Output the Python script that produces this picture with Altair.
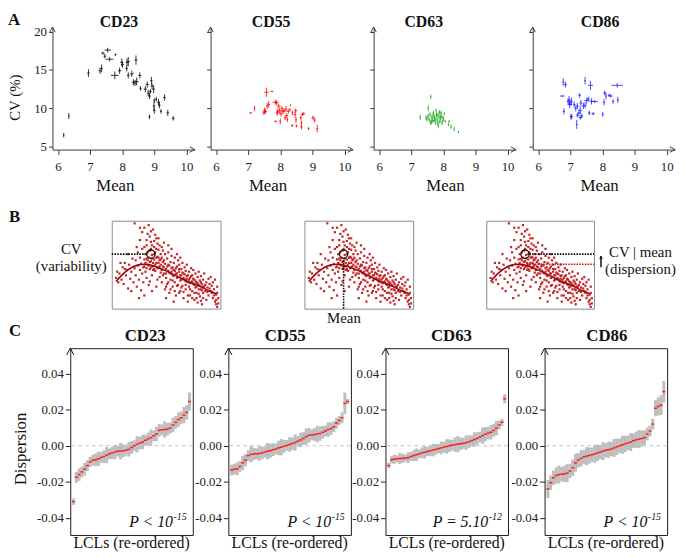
import altair as alt
import pandas as pd

# ======================= DATA =======================
# ---- Panel A: per-LCL (mean, CV %, mean error, CV error) ----
A_NAMES = ["CD23", "CD55", "CD63", "CD86"]
A_XTICKS = [6, 7, 8, 9, 10]
A_YTICKS = [5, 10, 15, 20]

CD23_A = [
    (6.18, 6.5, 0.02, 0.3), (6.34, 9.0, 0.02, 0.4), (6.95, 14.6, 0.04, 0.5),
    (7.31, 14.9, 0.04, 0.4), (7.36, 15.2, 0.04, 0.5), (7.40, 17.2, 0.05, 0.2),
    (7.46, 16.8, 0.04, 0.3), (7.55, 17.6, 0.10, 0.3), (7.61, 16.4, 0.12, 0.3),
    (7.79, 17.0, 0.03, 0.15), (7.77, 14.3, 0.12, 0.5), (7.92, 14.9, 0.05, 0.4),
    (7.99, 16.0, 0.05, 0.5), (8.01, 15.7, 0.05, 0.4), (8.15, 16.0, 0.04, 0.5),
    (8.19, 16.1, 0.05, 0.6), (8.19, 14.3, 0.04, 0.4), (8.14, 15.2, 0.04, 0.4),
    (8.30, 14.5, 0.06, 0.4), (8.35, 13.4, 0.05, 0.4), (8.40, 13.3, 0.05, 0.4),
    (8.43, 16.3, 0.05, 0.6), (8.45, 13.5, 0.06, 0.5), (8.55, 14.3, 0.05, 0.4),
    (8.57, 12.6, 0.03, 0.3), (8.72, 12.5, 0.05, 0.4), (8.78, 13.1, 0.05, 0.4),
    (8.81, 12.0, 0.04, 0.4), (8.85, 11.6, 0.05, 0.4), (8.85, 8.9, 0.03, 0.3),
    (8.91, 13.6, 0.04, 0.5), (8.93, 12.9, 0.05, 0.4), (8.98, 12.5, 0.04, 0.5),
    (9.00, 11.0, 0.03, 0.3), (8.99, 10.3, 0.04, 0.5), (9.00, 9.7, 0.04, 0.4),
    (9.13, 10.8, 0.05, 0.4), (9.16, 10.4, 0.04, 0.4), (9.21, 9.6, 0.03, 0.3),
    (9.32, 11.4, 0.04, 0.4), (9.42, 9.4, 0.04, 0.4), (9.59, 8.7, 0.04, 0.3),
    (9.06, 11.2, 0.03, 0.3), (8.88, 12.2, 0.04, 0.3),
]
CD55_A = [
    (7.08, 9.4, 0.04, 0.1), (7.20, 9.96, 0.02, 0.35), (7.49, 9.4, 0.05, 0.3),
    (7.51, 9.7, 0.04, 0.4), (7.54, 9.6, 0.05, 0.3), (7.57, 12.1, 0.07, 0.6),
    (7.59, 10.3, 0.04, 0.4), (7.64, 10.5, 0.04, 0.4), (7.74, 12.2, 0.04, 0.1),
    (7.85, 10.8, 0.09, 0.3), (7.88, 10.7, 0.05, 0.3), (7.90, 9.4, 0.05, 0.4),
    (7.92, 9.6, 0.04, 0.4), (7.95, 10.3, 0.06, 0.3), (7.98, 9.7, 0.04, 0.4),
    (8.00, 8.3, 0.03, 0.4), (8.02, 9.3, 0.05, 0.4), (8.05, 10.0, 0.04, 0.3),
    (8.08, 9.6, 0.04, 0.4), (8.12, 9.7, 0.05, 0.3), (8.15, 8.75, 0.04, 0.3),
    (8.18, 9.9, 0.04, 0.4), (8.20, 9.05, 0.05, 0.3), (8.22, 8.5, 0.03, 0.3),
    (8.25, 9.6, 0.04, 0.3), (8.30, 9.8, 0.03, 0.2), (8.32, 10.4, 0.02, 0.1),
    (8.37, 7.75, 0.03, 0.2), (8.46, 9.2, 0.04, 0.4), (8.48, 9.7, 0.04, 0.3),
    (8.49, 8.5, 0.03, 0.4), (8.51, 7.7, 0.03, 0.2), (8.64, 8.75, 0.04, 0.3),
    (8.66, 8.1, 0.03, 0.3), (8.69, 9.2, 0.04, 0.2), (8.73, 9.3, 0.04, 0.2),
    (8.66, 7.55, 0.04, 0.3), (8.88, 7.35, 0.03, 0.2), (9.02, 8.75, 0.05, 0.3),
    (9.07, 8.45, 0.03, 0.3), (9.15, 7.35, 0.03, 0.5), (7.85, 8.3, 0.04, 0.1),
    (8.38, 9.4, 0.03, 0.3),
]
CD63_A = [
    (7.61, 11.5, 0.02, 0.3), (7.28, 8.8, 0.02, 0.35), (7.53, 10.0, 0.02, 0.4),
    (7.49, 8.6, 0.03, 0.3), (7.56, 8.5, 0.03, 0.3), (7.61, 8.1, 0.03, 0.3),
    (7.66, 8.4, 0.03, 0.3), (7.69, 9.4, 0.03, 0.3), (7.73, 8.8, 0.03, 0.4),
    (7.76, 8.1, 0.02, 0.3), (7.79, 9.2, 0.03, 0.4), (7.81, 8.5, 0.03, 0.3),
    (7.84, 7.7, 0.02, 0.3), (7.86, 9.0, 0.03, 0.4), (7.89, 8.3, 0.03, 0.3),
    (7.91, 8.8, 0.04, 0.4), (7.93, 9.4, 0.03, 0.3), (7.96, 8.1, 0.02, 0.3),
    (7.99, 8.4, 0.02, 0.2), (8.03, 9.3, 0.02, 0.2), (8.06, 8.3, 0.02, 0.2),
    (8.16, 7.9, 0.02, 0.2), (8.24, 7.6, 0.02, 0.3), (8.34, 7.3, 0.02, 0.3),
    (8.47, 6.9, 0.02, 0.15), (7.59, 9.2, 0.03, 0.3), (7.64, 8.8, 0.03, 0.3),
    (7.71, 8.4, 0.03, 0.3), (7.83, 8.1, 0.03, 0.3), (7.53, 9.0, 0.03, 0.3),
    (7.46, 8.8, 0.02, 0.3), (8.18, 8.3, 0.02, 0.2), (7.77, 9.75, 0.02, 0.2),
    (7.88, 9.5, 0.03, 0.3), (7.68, 9.0, 0.03, 0.3), (7.74, 8.6, 0.03, 0.3),
    (7.95, 8.9, 0.03, 0.3), (7.62, 8.2, 0.03, 0.3), (7.80, 9.1, 0.03, 0.3),
    (8.00, 8.7, 0.03, 0.3),
]
CD86_A = [
    (6.78, 13.4, 0.03, 0.5), (6.85, 13.1, 0.04, 0.4), (6.75, 11.6, 0.07, 0.1),
    (6.80, 9.6, 0.03, 0.4), (6.93, 10.9, 0.04, 0.4), (6.96, 11.1, 0.05, 0.5),
    (6.98, 10.5, 0.06, 0.5), (6.99, 10.7, 0.04, 0.4), (7.02, 8.9, 0.04, 0.4),
    (7.04, 10.9, 0.03, 0.5), (7.12, 10.5, 0.04, 0.4), (7.17, 10.0, 0.04, 0.4),
    (7.20, 7.9, 0.03, 0.6), (7.22, 9.1, 0.04, 0.3), (7.27, 9.4, 0.05, 0.4),
    (7.29, 11.7, 0.04, 0.3), (7.31, 9.75, 0.06, 0.5), (7.33, 10.7, 0.05, 0.4),
    (7.36, 9.0, 0.04, 0.3), (7.41, 10.3, 0.05, 0.4), (7.46, 13.6, 0.03, 0.5),
    (7.51, 11.0, 0.08, 0.4), (7.56, 11.2, 0.05, 0.3), (7.59, 9.4, 0.04, 0.3),
    (7.63, 13.0, 0.08, 0.6), (7.66, 10.9, 0.06, 0.4), (7.71, 9.3, 0.05, 0.2),
    (7.76, 10.9, 0.10, 0.2), (7.46, 10.4, 0.05, 0.4), (7.22, 10.3, 0.04, 0.4),
    (8.01, 9.2, 0.03, 0.3), (8.05, 10.8, 0.04, 0.4), (8.07, 12.0, 0.05, 0.3),
    (8.11, 11.6, 0.03, 0.4), (8.21, 11.7, 0.04, 0.2), (8.26, 11.6, 0.06, 0.2),
    (8.33, 10.9, 0.03, 0.3), (8.46, 13.0, 0.18, 0.3), (8.48, 11.1, 0.03, 0.4),
    (7.04, 8.9, 0.04, 0.3), (7.31, 8.8, 0.05, 0.3),
]
A_DATA = [CD23_A, CD55_A, CD63_A, CD86_A]

# ---- Panel B: schematic cloud (normalised mean, normalised CV) ----
B_CLOUD = [
    (0.04, 0.35), (0.06, 0.30), (0.07, 0.40), (0.09, 0.33), (0.10, 0.47), (0.11, 0.28),
    (0.12, 0.52), (0.13, 0.38), (0.14, 0.44), (0.15, 0.23), (0.16, 0.50), (0.17, 0.34),
    (0.18, 0.42), (0.19, 0.57), (0.20, 0.30), (0.08, 0.52), (0.05, 0.42), (0.15, 0.62),
    (0.18, 0.20), (0.12, 0.45),
    (0.21, 0.46), (0.22, 0.38), (0.22, 0.55), (0.23, 0.25), (0.24, 0.49), (0.24, 0.64),
    (0.25, 0.33), (0.25, 0.12), (0.26, 0.44), (0.26, 0.58), (0.27, 0.21), (0.27, 0.51),
    (0.28, 0.40), (0.28, 0.68), (0.29, 0.30), (0.29, 0.47), (0.30, 0.56), (0.30, 0.15),
    (0.21, 0.97), (0.28, 0.87), (0.23, 0.70), (0.26, 0.78),
    (0.31, 0.62), (0.31, 0.42), (0.32, 0.72), (0.32, 0.35), (0.33, 0.50), (0.33, 0.85),
    (0.34, 0.58), (0.34, 0.27), (0.35, 0.66), (0.35, 0.45), (0.36, 0.76), (0.36, 0.54),
    (0.37, 0.61), (0.37, 0.38), (0.38, 0.90), (0.38, 0.48), (0.39, 0.70), (0.39, 0.56),
    (0.40, 0.64), (0.40, 0.43), (0.41, 0.52), (0.41, 0.80), (0.42, 0.59), (0.42, 0.33),
    (0.43, 0.67), (0.43, 0.47), (0.44, 0.55), (0.44, 0.72), (0.45, 0.41), (0.45, 0.62),
    (0.34, 0.95), (0.36, 0.88), (0.40, 0.84), (0.33, 0.64), (0.38, 0.52), (0.42, 0.74),
    (0.37, 0.20), (0.41, 0.25), (0.35, 0.31), (0.44, 0.36), (0.32, 0.57), (0.39, 0.45),
    (0.43, 0.58), (0.36, 0.68), (0.45, 0.50),
    (0.46, 0.58), (0.46, 0.30), (0.47, 0.48), (0.47, 0.66), (0.48, 0.40), (0.48, 0.55),
    (0.49, 0.22), (0.49, 0.62), (0.50, 0.45), (0.50, 0.35), (0.51, 0.57), (0.51, 0.28),
    (0.52, 0.50), (0.52, 0.64), (0.53, 0.41), (0.53, 0.18), (0.54, 0.53), (0.54, 0.33),
    (0.55, 0.46), (0.55, 0.60), (0.56, 0.38), (0.56, 0.25), (0.57, 0.52), (0.57, 0.44),
    (0.58, 0.30), (0.58, 0.58), (0.59, 0.40), (0.59, 0.15), (0.60, 0.48), (0.60, 0.35),
    (0.61, 0.55), (0.61, 0.27), (0.62, 0.42), (0.62, 0.50), (0.63, 0.32), (0.63, 0.20),
    (0.64, 0.45), (0.64, 0.38), (0.65, 0.52), (0.65, 0.26), (0.66, 0.40), (0.66, 0.12),
    (0.67, 0.47), (0.67, 0.33), (0.68, 0.43), (0.68, 0.22), (0.69, 0.37), (0.69, 0.50),
    (0.70, 0.30), (0.70, 0.08), (0.52, 0.72), (0.48, 0.75), (0.55, 0.68), (0.60, 0.62),
    (0.50, 0.12), (0.57, 0.08), (0.63, 0.58), (0.47, 0.38),
    (0.71, 0.42), (0.71, 0.25), (0.72, 0.35), (0.72, 0.15), (0.73, 0.46), (0.73, 0.30),
    (0.74, 0.20), (0.74, 0.38), (0.75, 0.28), (0.75, 0.44), (0.76, 0.33), (0.76, 0.10),
    (0.77, 0.24), (0.77, 0.40), (0.78, 0.30), (0.78, 0.18), (0.79, 0.36), (0.79, 0.07),
    (0.80, 0.27), (0.80, 0.42), (0.81, 0.32), (0.81, 0.14), (0.82, 0.22), (0.82, 0.37),
    (0.83, 0.28), (0.83, 0.05), (0.84, 0.33), (0.84, 0.18), (0.85, 0.25), (0.85, 0.40),
    (0.86, 0.20), (0.87, 0.30), (0.87, 0.10), (0.88, 0.24), (0.89, 0.34), (0.89, 0.15),
    (0.90, 0.28), (0.91, 0.20), (0.91, 0.36), (0.92, 0.26), (0.93, 0.12), (0.93, 0.30),
    (0.94, 0.22), (0.95, 0.33), (0.95, 0.08), (0.96, 0.16), (0.96, 0.05), (0.97, 0.25),
    (0.97, 0.02), (0.98, 0.12),
    # dense band just above / around the fitted curve
    (0.30, 0.48), (0.31, 0.52), (0.32, 0.46), (0.33, 0.55), (0.34, 0.49), (0.35, 0.53),
    (0.36, 0.47), (0.37, 0.57), (0.38, 0.44), (0.39, 0.62), (0.40, 0.50), (0.41, 0.58),
    (0.42, 0.46), (0.43, 0.52), (0.44, 0.48), (0.45, 0.56), (0.46, 0.44), (0.47, 0.53),
    (0.48, 0.47), (0.49, 0.51), (0.50, 0.40), (0.51, 0.48), (0.52, 0.43), (0.53, 0.49),
    (0.54, 0.40), (0.55, 0.42), (0.56, 0.47), (0.57, 0.37), (0.58, 0.43), (0.59, 0.46),
    (0.60, 0.40), (0.61, 0.36), (0.62, 0.45), (0.63, 0.38), (0.64, 0.33), (0.65, 0.41),
    (0.66, 0.35), (0.67, 0.39), (0.68, 0.31), (0.69, 0.34), (0.70, 0.38), (0.71, 0.33),
    (0.72, 0.29), (0.73, 0.37), (0.74, 0.31), (0.75, 0.34), (0.76, 0.27), (0.77, 0.31),
    (0.78, 0.25), (0.79, 0.29), (0.80, 0.22), (0.81, 0.26), (0.82, 0.30), (0.83, 0.21),
    (0.84, 0.25), (0.86, 0.27), (0.88, 0.19), (0.90, 0.23), (0.92, 0.18), (0.94, 0.15),
    (0.96, 0.10), (0.97, 0.18), (0.98, 0.06),
    (0.50, 0.25), (0.52, 0.30), (0.54, 0.22), (0.56, 0.32), (0.58, 0.20), (0.60, 0.26),
    (0.62, 0.18), (0.64, 0.24), (0.66, 0.19), (0.68, 0.27), (0.70, 0.15), (0.72, 0.22),
    (0.74, 0.12), (0.76, 0.18), (0.78, 0.12), (0.80, 0.17), (0.82, 0.09), (0.84, 0.12),
    (0.30, 0.70), (0.32, 0.78), (0.35, 0.82), (0.37, 0.72), (0.39, 0.77), (0.41, 0.68),
    (0.43, 0.80), (0.46, 0.70), (0.30, 0.92), (0.26, 0.92),
]
B_FIT_X = [0.04, 0.10, 0.15, 0.20, 0.25, 0.30, 0.35, 0.40, 0.50, 0.60, 0.70, 0.80, 0.90, 0.96]
B_FIT_Y = [0.31, 0.39, 0.44, 0.48, 0.50, 0.505, 0.50, 0.48, 0.43, 0.37, 0.31, 0.26, 0.20, 0.17]
B_POINT = (0.36, 0.62)          # highlighted LCL (mean, CV)
B_FIT_AT_POINT = 0.505          # fitted CV at that mean

# ---- Panel C: sorted dispersion per LCL with error half-widths ----
C_NAMES = ["CD23", "CD55", "CD63", "CD86"]
C_YTICKS = [-0.04, -0.02, 0.0, 0.02, 0.04]
C_PVALUES = [("P < 10", "-15"), ("P < 10", "-15"), ("P = 5.10", "-12"), ("P < 10", "-15")]

D23 = [-0.031, -0.0175, -0.016, -0.0145, -0.013, -0.011, -0.009, -0.008, -0.0078, -0.0072,
       -0.0065, -0.006, -0.0052, -0.0045, -0.004, -0.0035, -0.003, -0.003, -0.0028, -0.0025,
       -0.002, -0.001, 0.000, 0.0008, 0.0015, 0.002, 0.003, 0.0038, 0.0045, 0.0055,
       0.0065, 0.0085, 0.0088, 0.009, 0.0092, 0.0098, 0.0115, 0.013, 0.0145, 0.0155,
       0.017, 0.0185, 0.0245]
E23 = [0.0018, 0.003, 0.0035, 0.003, 0.0035, 0.003, 0.0028, 0.003, 0.0035, 0.004,
       0.003, 0.0035, 0.0045, 0.003, 0.0035, 0.004, 0.003, 0.0045, 0.0035, 0.003,
       0.004, 0.0035, 0.003, 0.0045, 0.0035, 0.004, 0.003, 0.0035, 0.0045, 0.003,
       0.004, 0.0035, 0.003, 0.0045, 0.0035, 0.003, 0.004, 0.0035, 0.004, 0.0035,
       0.0045, 0.004, 0.005]
D55 = [-0.0135, -0.013, -0.0128, -0.0115, -0.0095, -0.008, -0.0055, -0.0048, -0.0046, -0.0045,
       -0.0043, -0.004, -0.0035, -0.003, -0.0028, -0.0022, -0.0018, -0.0012, -0.0008, -0.0003,
       0.0002, 0.0007, 0.0012, 0.0018, 0.0025, 0.0032, 0.004, 0.005, 0.0058, 0.006,
       0.0062, 0.0065, 0.0068, 0.0075, 0.0082, 0.009, 0.0095, 0.0105, 0.0125, 0.014,
       0.0155, 0.0235, 0.0245]
E55 = [0.003, 0.003, 0.0035, 0.003, 0.004, 0.0035, 0.003, 0.0045, 0.0035, 0.003,
       0.004, 0.0035, 0.003, 0.0045, 0.004, 0.0035, 0.003, 0.004, 0.0045, 0.0035,
       0.003, 0.004, 0.0035, 0.0045, 0.003, 0.004, 0.0035, 0.0045, 0.004, 0.003,
       0.0035, 0.0045, 0.004, 0.0035, 0.003, 0.004, 0.0035, 0.003, 0.003, 0.0025,
       0.003, 0.006, 0.0015]
D63 = [-0.011, -0.0078, -0.0075, -0.0073, -0.0071, -0.007, -0.0068, -0.0066, -0.006, -0.0055,
       -0.005, -0.0045, -0.004, -0.0036, -0.0032, -0.0028, -0.0024, -0.002, -0.0016, -0.0012,
       -0.0008, -0.0004, 0.0000, 0.0003, 0.0006, 0.0009, 0.0011, 0.0013, 0.0017, 0.0022,
       0.0028, 0.0034, 0.004, 0.0048, 0.0056, 0.0064, 0.007, 0.0075, 0.0085, 0.0098,
       0.0115, 0.013, 0.026]
E63 = [0.0015, 0.002, 0.0025, 0.002, 0.003, 0.0025, 0.002, 0.003, 0.0025, 0.003,
       0.0035, 0.0025, 0.003, 0.0035, 0.0025, 0.003, 0.0035, 0.003, 0.0025, 0.0035,
       0.003, 0.004, 0.0035, 0.003, 0.004, 0.0045, 0.0035, 0.003, 0.004, 0.0035,
       0.003, 0.004, 0.0035, 0.003, 0.0045, 0.004, 0.0035, 0.004, 0.0035, 0.004,
       0.0025, 0.002, 0.0025]
D86 = [-0.024, -0.0205, -0.0178, -0.0165, -0.016, -0.0158, -0.0156, -0.0152, -0.014, -0.0122,
       -0.0095, -0.008, -0.007, -0.0062, -0.0058, -0.0054, -0.005, -0.0045, -0.004, -0.0035,
       -0.003, -0.0025, -0.0022, -0.0018, -0.0012, -0.0006, 0.0000, 0.0005, 0.001, 0.0016,
       0.002, 0.0028, 0.0033, 0.0037, 0.004, 0.0045, 0.0065, 0.0082, 0.012, 0.0208,
       0.0218, 0.0225, 0.030]
E86 = [0.005, 0.004, 0.004, 0.0045, 0.005, 0.004, 0.0045, 0.005, 0.004, 0.0045,
       0.005, 0.004, 0.0045, 0.004, 0.005, 0.0045, 0.004, 0.005, 0.0045, 0.004,
       0.005, 0.004, 0.0045, 0.004, 0.005, 0.0045, 0.004, 0.005, 0.0045, 0.004,
       0.005, 0.004, 0.0045, 0.005, 0.0045, 0.004, 0.0035, 0.003, 0.003, 0.0045,
       0.005, 0.0055, 0.006]
C_VALUES = [D23, D55, D63, D86]
C_ERRORS = [E23, E55, E63, E86]

# ======================= LAYOUT / STYLE =======================
SERIF = "Liberation Serif"
AXC = "#3a3a3a"
A_COLORS = ["#000000", "#ff0000", "#22a722", "#1c1cff"]
A_XDOM = [5.83, 10.26]
A_YDOM = [4.61, 20.61]
A_W, A_H = 144, 124
A_GAPS = [16, 21, 17]
A_TITLE_X = [67.3, 61.3, 50.7, 68.2]
A_MEAN_X = [63.6, 58.1, 72.7, 67.7]

B_W = [110, 110, 109]
B_H = 89
B_LEAD = 59.3
B_GAPS = [85, 74]
B_DOT = "#c11a1f"
B_FIT = "#8e0c0c"
B_ARROW_X = 1.065               # small "increase" arrow beside panel 3 (box units)
B_ARROW_Y = (0.47, 0.60)

C_W, C_H = 124, 189
C_LEAD = 17.3
C_GAPS = [36, 35, 37]
C_YDOM = [-0.0495, 0.0541]
C_TITLE_X = [75.8, 57.5, 66.8, 63.0]

# nested rows count as zero height in a flush vconcat, so the spacers carry
# the full vertical step from one row's top to the next row's top
ROW_STEPS = [A_H + 72, B_H + 40]

UP = "M -1 1.9 L 0 0 L 1 1.9"
RIGHT = "M -1.9 -1 L 0 0 L -1.9 1"
DASH = "M -1 -0.5 L 1 -0.5 L 1 0.5 L -1 0.5 Z"
HEAD = "M -1 1.6 L 0 0 L 1 1.6 Z"


def text_layer(s, x, y, size, weight="normal", style="normal", align="center",
               baseline="alphabetic", angle=0, color="#111111"):
    kw = dict(font=SERIF, fontSize=size, fontWeight=weight, fontStyle=style,
              align=align, baseline=baseline, color=color)
    if angle:
        kw["angle"] = angle
    return alt.Chart(pd.DataFrame({"t": [s]})).mark_text(**kw).encode(
        text="t:N", x=alt.value(x), y=alt.value(y))


def spacer(w, h):
    return alt.Chart(pd.DataFrame({"v": [0]})).mark_point(opacity=0).encode(
        x=alt.X("v:Q", axis=None), y=alt.Y("v:Q", axis=None)
    ).properties(width=w, height=h)


# ---------------- Panel A ----------------
def panel_a(k):
    df = pd.DataFrame(A_DATA[k], columns=["mean", "cv", "merr", "cverr"])
    xs = alt.Scale(domain=A_XDOM, nice=False, zero=False)
    ys = alt.Scale(domain=A_YDOM, nice=False, zero=False)
    common = dict(title=None, grid=False, domainColor=AXC, tickColor=AXC,
                  labelFont=SERIF, labelFontSize=13, labelColor="#222222",
                  labelFlush=False, labelOverlap=False)
    xax = alt.Axis(values=A_XTICKS, tickSize=5, labelPadding=6, **common)
    yax = alt.Axis(values=A_YTICKS, tickSize=4, labelPadding=2, labels=(k == 0), **common)
    base = alt.Chart(df).transform_calculate(
        m0="datum.mean - datum.merr", m1="datum.mean + datum.merr",
        c0="datum.cv - datum.cverr", c1="datum.cv + datum.cverr")
    col = A_COLORS[k]
    hbar = base.mark_rule(color=col, strokeWidth=1, opacity=0.8).encode(
        x=alt.X("m0:Q", scale=xs, axis=xax), x2="m1:Q",
        y=alt.Y("cv:Q", scale=ys, axis=yax))
    vbar = base.mark_rule(color=col, strokeWidth=1, opacity=0.8).encode(
        x=alt.X("mean:Q", scale=xs, axis=xax),
        y=alt.Y("c0:Q", scale=ys, axis=yax), y2="c1:Q")
    arr_r = alt.Chart(pd.DataFrame({"x": [A_XDOM[1]], "y": [A_YDOM[0]]})).mark_point(
        shape=RIGHT, size=30, filled=False, color=AXC, strokeWidth=1, opacity=1
    ).encode(x=alt.X("x:Q", scale=xs, axis=xax), y=alt.Y("y:Q", scale=ys, axis=yax))
    arr_u = alt.Chart(pd.DataFrame({"x": [A_XDOM[0]], "y": [A_YDOM[1]]})).mark_point(
        shape=UP, size=30, filled=False, color=AXC, strokeWidth=1, opacity=1
    ).encode(x=alt.X("x:Q", scale=xs, axis=xax), y=alt.Y("y:Q", scale=ys, axis=yax))
    layers = [hbar, vbar, arr_r, arr_u,
              text_layer(A_NAMES[k], A_TITLE_X[k], 0, 16, weight="bold"),
              text_layer("Mean", A_MEAN_X[k], 166, 17)]
    if k == 0:
        layers.append(text_layer("CV (%)", -37.5, 71.5, 15, baseline="middle", angle=270))
        layers.append(text_layer("A", -45, -15, 17, weight="bold", align="left", baseline="top"))
    return alt.layer(*layers).properties(width=A_W, height=A_H)


# ---------------- Panel B ----------------
def panel_b(k):
    xs = alt.Scale(domain=[0, 1], nice=False, zero=False)
    ys = alt.Scale(domain=[0, 1], nice=False, zero=False)

    def X(f):
        return alt.X(f, scale=xs, axis=None)

    def Y(f):
        return alt.Y(f, scale=ys, axis=None)

    cloud_df = pd.DataFrame(B_CLOUD, columns=["bx", "by"])
    fit_df = pd.DataFrame({"fx": B_FIT_X, "fy": B_FIT_Y})
    px, py = B_POINT
    cloud = alt.Chart(cloud_df).mark_square(size=5, color=B_DOT, opacity=0.95).encode(
        x=X("bx:Q"), y=Y("by:Q"))
    fit = alt.Chart(fit_df).mark_line(color=B_FIT, strokeWidth=1.6, interpolate="monotone").encode(
        x=X("fx:Q"), y=Y("fy:Q"))
    ring = alt.Chart(pd.DataFrame({"x": [px], "y": [py]})).mark_point(
        shape="circle", size=70, filled=False, color="#111111", strokeWidth=1.3, opacity=1
    ).encode(x=X("x:Q"), y=Y("y:Q"))
    dots = dict(strokeWidth=1.6, strokeDash=[1.6, 1.2])
    layers = [cloud, fit]
    if k == 0:
        layers.append(alt.Chart(pd.DataFrame({"a": [0.0], "b": [px - 0.04], "y": [py]})).mark_rule(
            color="#111111", **dots).encode(x=X("a:Q"), x2="b:Q", y=Y("y:Q")))
        layers.append(text_layer("CV", -41, 28.5, 15, baseline="middle"))
        layers.append(text_layer("(variability)", -41, 46, 15, baseline="middle"))
        layers.append(text_layer("B", -104, -11.4, 17, weight="bold", align="left", baseline="top"))
    elif k == 1:
        layers.append(alt.Chart(pd.DataFrame({"x": [px], "a": [0.0], "b": [py - 0.05]})).mark_rule(
            color="#111111", **dots).encode(x=X("x:Q"), y=Y("a:Q"), y2="b:Q"))
        layers.append(text_layer("Mean", 40, 98, 15, baseline="middle"))
    else:
        layers.append(alt.Chart(pd.DataFrame({"a": [px + 0.04], "b": [1.0], "y": [py]})).mark_rule(
            color="#111111", **dots).encode(x=X("a:Q"), x2="b:Q", y=Y("y:Q")))
        layers.append(alt.Chart(pd.DataFrame({"a": [px + 0.015], "b": [1.0], "y": [B_FIT_AT_POINT]})).mark_rule(
            color="#c0141c", **dots).encode(x=X("a:Q"), x2="b:Q", y=Y("y:Q")))
        arrow_df = pd.DataFrame({"x": [B_ARROW_X], "y0": [B_ARROW_Y[0]], "y1": [B_ARROW_Y[1]]})
        layers.append(alt.Chart(arrow_df).mark_rule(color="#111111", strokeWidth=1.5).encode(
            x=X("x:Q"), y=Y("y0:Q"), y2="y1:Q"))
        layers.append(alt.Chart(arrow_df).mark_point(
            shape=HEAD, size=14, filled=True, color="#111111", opacity=1).encode(
            x=X("x:Q"), y=Y("y1:Q")))
        layers.append(text_layer("CV | mean", 156, 32, 15, baseline="middle"))
        layers.append(text_layer("(dispersion)", 156, 49, 15, baseline="middle"))
    layers.append(ring)
    return alt.layer(*layers).properties(
        width=B_W[k], height=B_H,
        view=alt.ViewBackground(stroke="#8a8a8a", strokeWidth=1))


# ---------------- Panel C ----------------
def panel_c(k):
    vals, errs = C_VALUES[k], C_ERRORS[k]
    n = len(vals)
    df = pd.DataFrame({"rank": list(range(n)), "d": vals, "e": errs})
    xs = alt.Scale(domain=[-1.2, n - 1 + 1.2], nice=False, zero=False)
    ys = alt.Scale(domain=C_YDOM, nice=False, zero=False)
    yax = alt.Axis(values=C_YTICKS, title=None, grid=False, domain=False,
                   tickColor="#222222", tickSize=5, labelPadding=2,
                   labelFont=SERIF, labelFontSize=13, labelColor="#222222",
                   labelFlush=False, labelOverlap=False,
                   labelExpr="datum.value < 0 ? '-' + format(-datum.value, '.2f') : format(datum.value, '.2f')")
    base = alt.Chart(df).transform_calculate(lo="datum.d - datum.e", hi="datum.d + datum.e")
    zero = alt.Chart(pd.DataFrame({"z": [0.0]})).mark_rule(
        color="#c4c4c4", strokeDash=[4, 3], strokeWidth=1).encode(
        y=alt.Y("z:Q", scale=ys, axis=yax))
    bars = base.mark_rule(color="#bebebe", strokeWidth=3).encode(
        x=alt.X("rank:Q", scale=xs, axis=None),
        y=alt.Y("lo:Q", scale=ys, axis=yax), y2="hi:Q")
    pts = base.mark_point(shape=DASH, size=9, filled=True, color="#ff1a1a", opacity=1).encode(
        x=alt.X("rank:Q", scale=xs, axis=None),
        y=alt.Y("d:Q", scale=ys, axis=yax))
    tip = alt.Chart(pd.DataFrame({"x": [-1.2], "y": [C_YDOM[1]]})).mark_point(
        shape=UP, size=52, filled=False, color="#111111", strokeWidth=1, opacity=1
    ).encode(x=alt.X("x:Q", scale=xs, axis=None), y=alt.Y("y:Q", scale=ys, axis=yax))
    main_p, sup_p = C_PVALUES[k]
    layers = [zero, bars, pts, tip,
              text_layer(C_NAMES[k], C_TITLE_X[k], -7.3, 17, weight="bold"),
              text_layer("LCLs (re-ordered)", 62, 202, 16),
              text_layer(main_p, 104, 181, 16, style="italic", align="right"),
              text_layer(sup_p, 104.5, 174, 10, style="italic", align="left")]
    if k == 0:
        layers.append(text_layer("Dispersion", -49.3, 102, 17, baseline="middle", angle=270))
        layers.append(text_layer("C", -62, -25.4, 17, weight="bold", align="left", baseline="top"))
    return alt.layer(*layers).properties(
        width=C_W, height=C_H,
        view=alt.ViewBackground(stroke="#1a1a1a", strokeWidth=1))


row_a = alt.hconcat(panel_a(0), spacer(A_GAPS[0], A_H), panel_a(1), spacer(A_GAPS[1], A_H),
                    panel_a(2), spacer(A_GAPS[2], A_H), panel_a(3), spacing=0, bounds="flush")
row_b = alt.hconcat(spacer(B_LEAD, B_H), panel_b(0), spacer(B_GAPS[0], B_H), panel_b(1),
                    spacer(B_GAPS[1], B_H), panel_b(2), spacing=0, bounds="flush")
row_c = alt.hconcat(spacer(C_LEAD, C_H), panel_c(0), spacer(C_GAPS[0], C_H), panel_c(1),
                    spacer(C_GAPS[1], C_H), panel_c(2), spacer(C_GAPS[2], C_H), panel_c(3),
                    spacing=0, bounds="flush")

chart = alt.vconcat(row_a, spacer(10, ROW_STEPS[0]), row_b, spacer(10, ROW_STEPS[1]), row_c,
                    spacing=0, bounds="flush").properties(
    padding={"left": 0, "top": 0, "right": 0, "bottom": 0}, background="white"
).configure_view(stroke=None)

chart.save("out.html", embed_options={"renderer": "svg", "actions": False})
